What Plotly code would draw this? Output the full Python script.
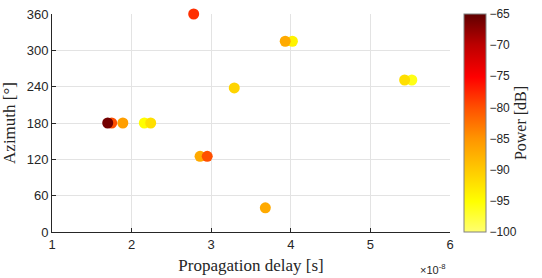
import plotly.graph_objects as go

delay_s = [1.75e-8, 1.70e-8, 1.89e-8, 2.16e-8, 2.24e-8, 2.78e-8, 2.86e-8, 2.95e-8,
           3.93e-8, 4.02e-8, 3.29e-8, 5.43e-8, 5.52e-8, 3.68e-8]
azimuth_deg = [180, 180, 180, 180, 180, 360, 125, 125, 315, 315, 238, 251, 251, 40]
power_db = [-80, -66, -86, -95, -92, -78, -87, -80, -87, -94, -91, -92, -96, -87]

x_tick_vals = [1e-8, 2e-8, 3e-8, 4e-8, 5e-8, 6e-8]
x_tick_text = ["1", "2", "3", "4", "5", "6"]
y_tick_vals = [0, 60, 120, 180, 240, 300, 360]
cb_tick_vals = [-100, -95, -90, -85, -80, -75, -70, -65]

# draw weaker paths first so the stronger ones sit on top
order = sorted(range(len(power_db)), key=lambda i: power_db[i])
xs = [delay_s[i] for i in order]
ys = [azimuth_deg[i] for i in order]
cs = [power_db[i] for i in order]

colorscale = [
    [0.0, "#ffff70"],
    [0.14, "#ffff00"],
    [0.29, "#ffc800"],
    [0.43, "#ff9400"],
    [0.57, "#ff5000"],
    [0.71, "#ff0000"],
    [0.86, "#bb0000"],
    [1.0, "#600000"],
]

fig = go.Figure(go.Scatter(
    x=xs, y=ys, mode="markers", cliponaxis=False,
    marker=dict(size=11, color=cs, colorscale=colorscale, cmin=-100, cmax=-65,
                line=dict(width=0),
                colorbar=dict(
                    x=1.035, xanchor="left", y=0.5, yanchor="middle",
                    len=1.0, lenmode="fraction", thickness=22, thicknessmode="pixels",
                    xpad=0, ypad=0,
                    outlinecolor="#808080", outlinewidth=1,
                    tickvals=cb_tick_vals, ticks="", ticklabeloverflow="allow",
                    tickfont=dict(family="Liberation Sans", size=12, color="#262626"),
                    title=dict(text="Power [dB]", side="right",
                               font=dict(family="Liberation Serif", size=16, color="#262626")),
                )),
    showlegend=False,
))

fig.update_layout(
    width=542, height=278,
    margin=dict(l=52, r=92, t=7, b=46),
    paper_bgcolor="white", plot_bgcolor="white",
    xaxis=dict(range=[1e-8, 6e-8], tickvals=x_tick_vals, ticktext=x_tick_text,
               showgrid=True, gridcolor="#e3e3e3", zeroline=False,
               showline=True, linecolor="#262626", linewidth=1,
               ticks="inside", ticklen=4, tickcolor="#262626",
               ticklabeloverflow="allow",
               tickfont=dict(family="Liberation Sans", size=13, color="#262626"),
               title=dict(text="Propagation delay [s]", standoff=8,
                          font=dict(family="Liberation Serif", size=17, color="#262626"))),
    yaxis=dict(range=[0, 360], tickvals=y_tick_vals,
               showgrid=True, gridcolor="#e3e3e3", zeroline=False,
               showline=True, linecolor="#262626", linewidth=1,
               ticks="inside", ticklen=4, tickcolor="#262626",
               ticklabeloverflow="allow",
               tickfont=dict(family="Liberation Sans", size=13, color="#262626"),
               title=dict(text="Azimuth [°]", standoff=6,
                          font=dict(family="Liberation Serif", size=17, color="#262626"))),
    annotations=[dict(text="×10<sup>-8</sup>", xref="paper", yref="paper",
                      x=0.995, y=-0.13, xanchor="right", yanchor="top", showarrow=False,
                      font=dict(family="Liberation Sans", size=11, color="#262626"))],
)

fig.write_html("out.html")
